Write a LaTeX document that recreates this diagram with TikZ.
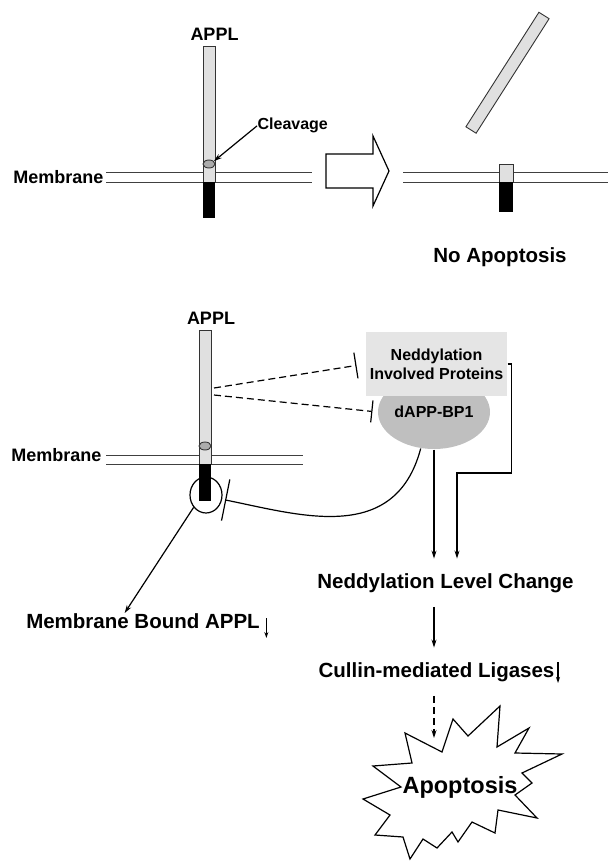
\documentclass[tikz,border=0pt]{standalone}
\usepackage{fontspec}
\setmainfont{Liberation Sans}
\usetikzlibrary{arrows,arrows.meta,shapes.geometric,positioning}

\begin{document}
\begin{tikzpicture}[
    x = 1pt, y = -1pt, % pixel grid, y pointing down
    > = {Stealth[length=8pt,width=5pt]}, % arrow head style
    line width = 1.2pt % line style
]
\tikzstyle{tag}=[inner sep=0pt, font=\bfseries\fontsize{18}{20}\selectfont]
\tikzstyle{small}=[inner sep=0pt, align=center, font=\bfseries\fontsize{16}{19}\selectfont]
\tikzstyle{row}=[inner xsep=0pt, inner ysep=14pt, anchor=base, font=\bfseries\fontsize{20.5}{23}\selectfont]
\tikzstyle{membrane}=[draw=black!75, line width=1pt]
\tikzstyle{rod}=[draw=black!80, fill=gray!24, line width=0.9pt]
\tikzstyle{cut}=[ellipse, draw=black!80, fill=gray!65, minimum width=12pt, minimum height=8pt, inner sep=0pt, line width=0.9pt]
\tikzstyle{inhib}=[dashed, dash pattern=on 7pt off 4pt]
\tikzstyle{tinyarrow}=[-{Stealth[length=6pt,width=4pt]}]

\useasboundingbox (0,0) rectangle (608,861);

% ---- top: cleavage ----
\draw[membrane] (106,173) -- (312,173) (106,182) -- (312,182);
\draw[rod] (203,46) rectangle (215,182);
\fill (203,182) rectangle (215,218);
\node[cut] (cut1) at (209,164) {};
\node[tag, anchor=base] (appl1) at (214.5,41) {APPL};
\node[tag, anchor=base east] (mem1) at (104,183) {Membrane};
\node[small, anchor=base west] (cleav) at (257,130) {Cleavage};
\draw[->] (cleav.west) -- (cut1.30);

\draw (326,154) -- (373,154) -- (373,136) -- (389,171) -- (373,206) -- (373,188) -- (326,188) -- cycle;

\draw[membrane] (403,173) -- (608,173) (403,182) -- (608,182);
\draw[rod] (499,164) rectangle (513,182);
\fill (499,182) rectangle (513,212);
\draw[rod] (465.9,126.8) -- (476.1,133.2) -- (549.1,18.7) -- (538.9,12.3) -- cycle;
\node[row] (noapop) at (500,262) {No Apoptosis};

% ---- bottom: dAPP-BP1 ----
\draw[membrane] (106,455) -- (303,455) (106,464) -- (303,464);
\draw[rod] (199,330) rectangle (211,464);
\fill (199,464) rectangle (211,501);
\node[cut] (cut2) at (205,446) {};
\node[tag, anchor=base] (appl2) at (211,324) {APPL};
\node[tag, anchor=base east] (mem2) at (102,461) {Membrane};
\node[ellipse, draw, minimum width=32pt, minimum height=36pt, inner sep=0pt] (hold) at (206,495) {};

\node[small, ellipse, fill=gray!50, minimum width=112pt, minimum height=74pt, inner sep=0pt] (bp) at (434,412) {dAPP-BP1};
\node[small, fill=gray!20, minimum width=141pt, minimum height=64pt] (ned) at (436.5,364) {Neddylation\\Involved Proteins};

\coordinate (r1) at (214,388);
\coordinate (r2) at (214,395);
\draw[inhib, -{Bar[width=26pt]}, shorten >=9pt] (r1) -- (ned.west);
\draw[inhib, -{Bar[width=22pt]}, shorten >=5pt] (r2) -- (bp.west);
\draw[-{Bar[width=42pt]}, shorten >=3pt] (bp.250) .. controls (395,545) and (300,515) .. (hold.-15);

\node[row] (lvl) at (445.5,588) {Neddylation Level Change};
\node[row] (cul) at (436.5,677) {Cullin-mediated Ligases};
\node[row] (mba) at (143,628) {Membrane Bound APPL};
\coordinate (mbatop) at ([xshift=99pt,yshift=15pt]mba.base west);
\coordinate (elbow) at (457,473);
\coordinate (bursttop) at (434,738);

\draw[->] (hold.225) -- (mbatop);
\draw[tinyarrow] ([xshift=6pt,yshift=10pt]mba.base east) -- ([xshift=6pt,yshift=-10pt]mba.base east);
\draw[->] (bp.south) -- (bp.south |- lvl.north);
\draw[->] (ned.east) -| ([xshift=4pt]ned.east |- elbow) -- (elbow) -- (elbow |- lvl.north);
\draw[->] (lvl.south -| bp.south) -- (cul.north -| bp.south);
\draw[tinyarrow] ([xshift=3pt,yshift=15pt]cul.base east) -- ([xshift=3pt,yshift=-6pt]cul.base east);
\draw[->, inhib] (cul.south -| bp.south) -- (bursttop);

% ---- apoptosis burst ----
\draw[fill=white] (500,706) -- (497,747) -- (529,728) -- (515,753) -- (562,754) -- (522,773)
  -- (532,783) -- (515,795) -- (537,818) -- (498,810) -- (495,833) -- (472,822) -- (458,842)
  -- (452,832) -- (437,848) -- (423,839) -- (410,859) -- (403,837) -- (375,835) -- (390,815)
  -- (363,799) -- (401,787) -- (373,766) -- (412,763) -- (405,733) -- (442,752) -- (453,719)
  -- (468,736) -- cycle;
\node[inner sep=0pt, anchor=base, font=\bfseries\fontsize{23.5}{26}\selectfont] (apop) at (460,793) {Apoptosis};

\end{tikzpicture}
\end{document}
